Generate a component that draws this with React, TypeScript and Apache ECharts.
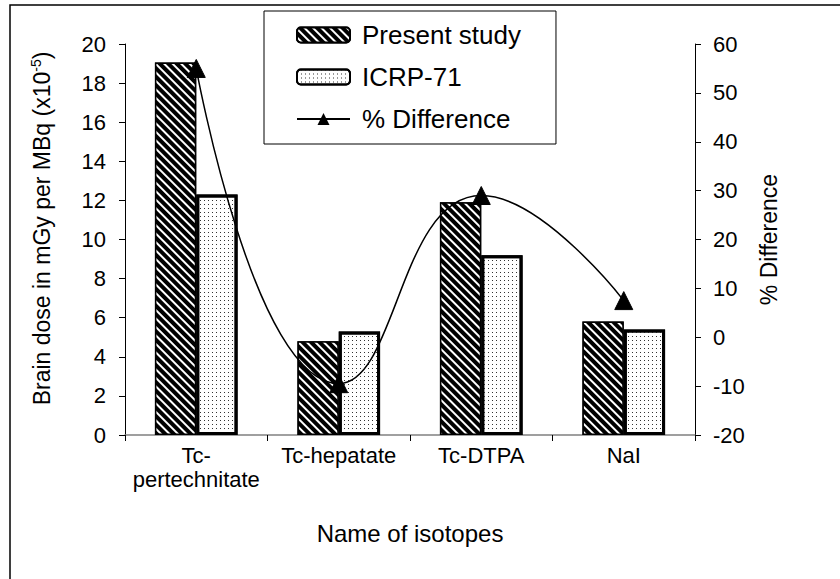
import React, { useEffect, useRef } from "react";
import * as echarts from "echarts";

const categories = ["Tc-\npertechnitate", "Tc-hepatate", "Tc-DTPA", "NaI"];
const presentStudy = [19.05, 4.8, 11.9, 5.8];
const icrp71 = [12.3, 5.3, 9.2, 5.4];
const pctDifference = [55, -9.5, 29, 7.5];

const FONT = "Liberation Sans, Arial, sans-serif";

export default function App() {
  const ref = useRef<HTMLDivElement>(null);
  useEffect(() => {
    document.body.style.margin = "0";
    const chart = echarts.init(ref.current!, null, { renderer: "svg" });
    chart.setOption({
      animation: false,
      backgroundColor: "#fff",
      textStyle: { fontFamily: FONT, color: "#000" },
      graphic: [
        {
          type: "rect",
          shape: { x: 10, y: 5, width: 900, height: 700 },
          style: { fill: "none", stroke: "#000", lineWidth: 1.5 },
          silent: true,
        },
      ],
      grid: { left: 125, right: 145, top: 44, bottom: 144 },
      legend: {
        orient: "vertical",
        left: 264,
        top: 11,
        padding: [11, 35, 12, 32],
        itemGap: 16,
        itemWidth: 53,
        itemHeight: 15,
        borderColor: "#000",
        borderWidth: 1,
        backgroundColor: "#fff",
        textStyle: {
          fontSize: 26,
          fontFamily: FONT,
          color: "#000",
          padding: [0, 0, 0, 7],
        },
        data: ["Present study", "ICRP-71", "% Difference"],
      },
      xAxis: {
        type: "category",
        data: categories,
        boundaryGap: true,
        name: "Name of isotopes",
        nameLocation: "middle",
        nameGap: 86,
        nameTextStyle: { fontSize: 24, fontFamily: FONT, color: "#000" },
        axisLine: { lineStyle: { color: "#808080", width: 1.5 } },
        axisTick: { show: true, length: 6, inside: false, lineStyle: { color: "#000" } },
        axisLabel: {
          interval: 0,
          fontSize: 22,
          fontFamily: FONT,
          color: "#000",
          margin: 8,
          lineHeight: 24,
        },
      },
      yAxis: [
        {
          type: "value",
          min: 0,
          max: 20,
          interval: 2,
          position: "left",
          name: "{n|Brain dose in mGy per MBq (x10}{sup|-5}{n|)}",
          nameLocation: "middle",
          nameGap: 70,
          nameRotate: 90,
          nameTextStyle: {
            fontFamily: FONT,
            color: "#000",
            padding: [0, 0, 0, 22],
            rich: {
              n: { fontSize: 23, fontFamily: FONT, color: "#000" },
              sup: {
                fontSize: 14,
                fontFamily: FONT,
                color: "#000",
                padding: [0, 0, 12, 0],
              },
            },
          },
          splitLine: { show: false },
          axisLine: { show: true, lineStyle: { color: "#000", width: 1 } },
          axisTick: { show: true, length: 6, lineStyle: { color: "#000" } },
          axisLabel: { fontSize: 22, fontFamily: FONT, color: "#000", margin: 19 },
        },
        {
          type: "value",
          min: -20,
          max: 60,
          interval: 10,
          position: "right",
          name: "% Difference",
          nameLocation: "middle",
          nameGap: 62,
          nameRotate: 90,
          nameTextStyle: { fontSize: 23, fontFamily: FONT, color: "#000" },
          splitLine: { show: false },
          axisLine: { show: true, lineStyle: { color: "#000", width: 1 } },
          axisTick: { show: true, length: 6, lineStyle: { color: "#000" } },
          axisLabel: { fontSize: 22, fontFamily: FONT, color: "#000", margin: 18 },
        },
      ],
      series: [
        {
          name: "Present study",
          type: "bar",
          data: presentStudy,
          barGap: "0%",
          barCategoryGap: "42%",
          itemStyle: {
            color: "#000",
            borderColor: "#000",
            borderWidth: 1.5,
            decal: {
              symbol: "rect",
              color: "#fff",
              backgroundColor: "#000",
              dashArrayX: [1, 0],
              dashArrayY: [2, 4],
              rotation: Math.PI / 4,
            },
          },
        },
        {
          name: "ICRP-71",
          type: "bar",
          data: icrp71,
          itemStyle: {
            color: "#fff",
            borderColor: "#000",
            borderWidth: 3,
            decal: {
              symbol: "rect",
              color: "#333",
              backgroundColor: "#fff",
              symbolSize: 1,
              dashArrayX: [1, 3],
              dashArrayY: [1, 3],
              rotation: 0,
            },
          },
        },
        {
          name: "% Difference",
          type: "line",
          yAxisIndex: 1,
          data: pctDifference,
          smooth: 0.5,
          symbol: "triangle",
          symbolSize: [18, 18],
          lineStyle: { color: "#000", width: 1.5 },
          itemStyle: { color: "#000", borderColor: "#000" },
          z: 5,
        },
      ],
    });
    return () => chart.dispose();
  }, []);
  return <div ref={ref} style={{ width: 840, height: 579 }} />;
}
